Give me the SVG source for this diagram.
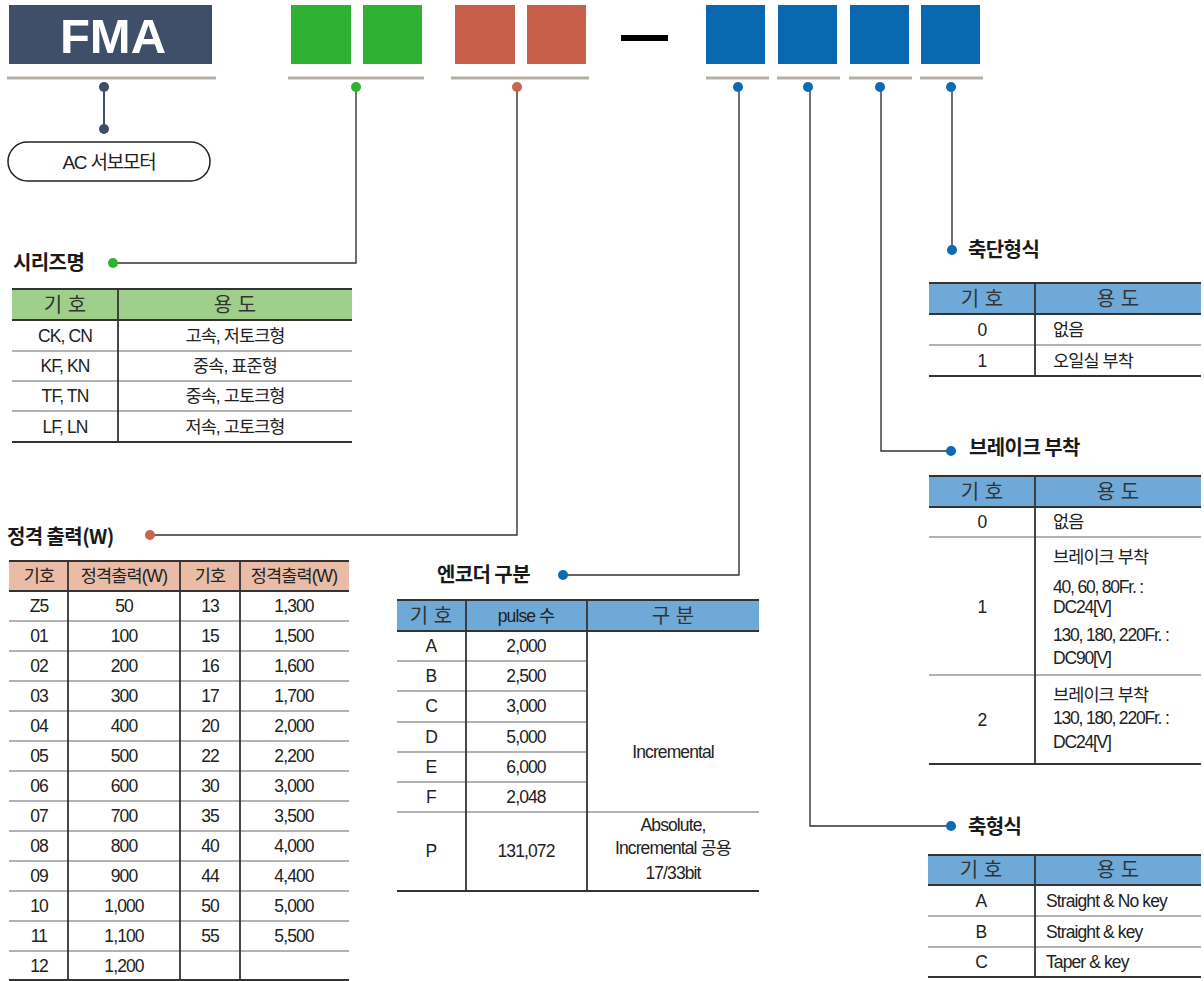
<svg xmlns="http://www.w3.org/2000/svg" width="1204" height="981" viewBox="0 0 1204 981">
<style>
text{font-family:"Liberation Sans","Noto Sans CJK KR",sans-serif;fill:#222;}
.t{font-size:17.5px;letter-spacing:-0.9px;}
.c{text-anchor:middle;}
.h{font-size:20px;fill:#333;text-anchor:middle;}
.ttl{font-family:"Noto Sans CJK KR","Liberation Sans",sans-serif;font-size:20px;font-weight:700;letter-spacing:-0.6px;fill:#1a1a1a;}
.dark{stroke:#333;stroke-width:1.8;fill:none;}
.row{stroke:#666;stroke-width:1.2;fill:none;}
.gl{stroke:#b7afa3;stroke-width:3;}
.conn{stroke:#333;stroke-width:1.4;fill:none;}
</style>
<g id="connectors">
<line x1="104" y1="87" x2="104" y2="134" stroke="#3f4f69" stroke-width="2"/>
<polyline class="conn" points="356,87 356,263 113,263"/>
<polyline class="conn" points="517,87 517,535 150,535"/>
<polyline class="conn" points="739,87 739,575 563,575"/>
<polyline class="conn" points="810,87 810,826 951,826"/>
<polyline class="conn" points="881,87 881,451 951,451"/>
<polyline class="conn" points="952,87 952,250"/>
</g>
<g id="code-fma">
<rect x="9" y="5" width="203" height="59" fill="#3f4f69"/>
<text x="113" y="53" font-size="49" font-weight="700" fill="#fff" text-anchor="middle" style="fill:#fff;font-family:'Liberation Sans',sans-serif">FMA</text>
<line class="gl" x1="7" y1="78" x2="216" y2="78"/>
<circle cx="104" cy="87" r="5" fill="#3f4f69"/>
<circle cx="104" cy="129" r="5" fill="#3f4f69"/>
</g>
<g id="code-series">
<rect x="291" y="5" width="60" height="59" fill="#2db233"/>
<rect x="363" y="5" width="59" height="59" fill="#2db233"/>
<line class="gl" x1="288" y1="78" x2="424" y2="78"/>
<circle cx="356" cy="87" r="5" fill="#2db233"/>
</g>
<g id="code-output">
<rect x="455" y="5" width="60" height="59" fill="#c75f4b"/>
<rect x="527" y="5" width="59" height="59" fill="#c75f4b"/>
<line class="gl" x1="451" y1="78" x2="589" y2="78"/>
<circle cx="517" cy="87" r="5" fill="#c86550"/>
</g>
<g id="dash"><rect x="621" y="35" width="47" height="6" fill="#000"/></g>
<g id="code-options">
<rect x="706" y="5" width="59" height="59" fill="#0868b0"/>
<rect x="778" y="5" width="59" height="59" fill="#0868b0"/>
<rect x="850" y="5" width="59" height="59" fill="#0868b0"/>
<rect x="921" y="5" width="59" height="59" fill="#0868b0"/>
<line class="gl" x1="706" y1="78" x2="769" y2="78"/>
<line class="gl" x1="777" y1="78" x2="840" y2="78"/>
<line class="gl" x1="849" y1="78" x2="912" y2="78"/>
<line class="gl" x1="920" y1="78" x2="983" y2="78"/>
<circle cx="738" cy="87" r="5" fill="#0b6bb3"/>
<circle cx="808" cy="87" r="5" fill="#0b6bb3"/>
<circle cx="880" cy="87" r="5" fill="#0b6bb3"/>
<circle cx="951" cy="87" r="5" fill="#0b6bb3"/>
</g>
<g id="ac-servo">
<rect x="8" y="142" width="202" height="39" rx="19.5" fill="#fff" stroke="#222" stroke-width="1.5"/>
<text class="c" x="109" y="169" style="font-size:19px;letter-spacing:-1.2px">AC 서보모터</text>
</g>
<g id="series-table">
<circle cx="113" cy="263" r="5" fill="#2db233"/>
<text class="ttl" x="13" y="270">시리즈명</text>
<rect x="12" y="289" width="340" height="31" fill="#9ed08b"/>
<line class="dark" x1="12" y1="289" x2="352" y2="289"/>
<line class="dark" x1="12" y1="320" x2="352" y2="320"/>
<line class="row" x1="12" y1="351" x2="352" y2="351"/>
<line class="row" x1="12" y1="381" x2="352" y2="381"/>
<line class="row" x1="12" y1="411" x2="352" y2="411"/>
<line class="dark" x1="12" y1="442" x2="352" y2="442"/>
<line class="dark" x1="118" y1="289" x2="118" y2="442"/>
<text class="h" x="65" y="312">기 호</text>
<text class="h" x="235" y="312">용 도</text>
<text class="t c" x="65" y="342">CK, CN</text><text class="t c" x="235" y="342">고속, 저토크형</text>
<text class="t c" x="65" y="372">KF, KN</text><text class="t c" x="235" y="372">중속, 표준형</text>
<text class="t c" x="65" y="402">TF, TN</text><text class="t c" x="235" y="402">중속, 고토크형</text>
<text class="t c" x="65" y="433">LF, LN</text><text class="t c" x="235" y="433">저속, 고토크형</text>
</g>
<g id="output-table">
<circle cx="150" cy="535" r="5" fill="#c86550"/>
<text class="ttl" x="7" y="544">정격 출력(W)</text>
<rect x="9" y="561" width="340" height="30" fill="#e9bca7"/>
<line class="dark" x1="9" y1="561" x2="349" y2="561"/>
<line class="dark" x1="9" y1="591" x2="349" y2="591"/>
<g class="row">
<line x1="9" y1="621" x2="349" y2="621"/><line x1="9" y1="651" x2="349" y2="651"/><line x1="9" y1="681" x2="349" y2="681"/><line x1="9" y1="711" x2="349" y2="711"/><line x1="9" y1="741" x2="349" y2="741"/><line x1="9" y1="771" x2="349" y2="771"/><line x1="9" y1="801" x2="349" y2="801"/><line x1="9" y1="831" x2="349" y2="831"/><line x1="9" y1="861" x2="349" y2="861"/><line x1="9" y1="891" x2="349" y2="891"/><line x1="9" y1="921" x2="349" y2="921"/><line x1="9" y1="951" x2="349" y2="951"/>
</g>
<line class="dark" x1="9" y1="980" x2="349" y2="980"/>
<line class="dark" x1="68" y1="561" x2="68" y2="980"/>
<line class="dark" x1="180" y1="561" x2="180" y2="980"/>
<line class="dark" x1="240" y1="561" x2="240" y2="980"/>
<text class="t c" x="39" y="582">기호</text><text class="t c" x="124" y="582">정격출력(W)</text><text class="t c" x="210" y="582">기호</text><text class="t c" x="294" y="582">정격출력(W)</text>
<g class="t c">
<text x="39" y="612">Z5</text><text x="124" y="612">50</text><text x="210" y="612">13</text><text x="294" y="612">1,300</text>
<text x="39" y="642">01</text><text x="124" y="642">100</text><text x="210" y="642">15</text><text x="294" y="642">1,500</text>
<text x="39" y="672">02</text><text x="124" y="672">200</text><text x="210" y="672">16</text><text x="294" y="672">1,600</text>
<text x="39" y="702">03</text><text x="124" y="702">300</text><text x="210" y="702">17</text><text x="294" y="702">1,700</text>
<text x="39" y="732">04</text><text x="124" y="732">400</text><text x="210" y="732">20</text><text x="294" y="732">2,000</text>
<text x="39" y="762">05</text><text x="124" y="762">500</text><text x="210" y="762">22</text><text x="294" y="762">2,200</text>
<text x="39" y="792">06</text><text x="124" y="792">600</text><text x="210" y="792">30</text><text x="294" y="792">3,000</text>
<text x="39" y="822">07</text><text x="124" y="822">700</text><text x="210" y="822">35</text><text x="294" y="822">3,500</text>
<text x="39" y="852">08</text><text x="124" y="852">800</text><text x="210" y="852">40</text><text x="294" y="852">4,000</text>
<text x="39" y="882">09</text><text x="124" y="882">900</text><text x="210" y="882">44</text><text x="294" y="882">4,400</text>
<text x="39" y="912">10</text><text x="124" y="912">1,000</text><text x="210" y="912">50</text><text x="294" y="912">5,000</text>
<text x="39" y="942">11</text><text x="124" y="942">1,100</text><text x="210" y="942">55</text><text x="294" y="942">5,500</text>
<text x="39" y="972">12</text><text x="124" y="972">1,200</text>
</g>
</g>
<g id="encoder-table">
<circle cx="563" cy="575" r="5" fill="#0b6bb3"/>
<text class="ttl" x="437" y="582">엔코더 구분</text>
<rect x="397" y="600" width="362" height="31" fill="#6fa9d8"/>
<line class="dark" x1="397" y1="600" x2="759" y2="600"/>
<line class="dark" x1="397" y1="631" x2="759" y2="631"/>
<g class="row">
<line x1="397" y1="661" x2="587" y2="661"/><line x1="397" y1="691" x2="587" y2="691"/><line x1="397" y1="722" x2="587" y2="722"/><line x1="397" y1="752" x2="587" y2="752"/><line x1="397" y1="782" x2="587" y2="782"/><line x1="397" y1="812" x2="759" y2="812"/>
</g>
<line class="dark" x1="397" y1="891" x2="759" y2="891"/>
<line class="dark" x1="466" y1="600" x2="466" y2="891"/>
<line class="dark" x1="587" y1="600" x2="587" y2="891"/>
<text class="h" x="431" y="623">기 호</text>
<text class="t c" x="526" y="622">pulse 수</text>
<text class="h" x="673" y="623">구 분</text>
<g class="t c">
<text x="431" y="652">A</text><text x="526" y="652">2,000</text>
<text x="431" y="682">B</text><text x="526" y="682">2,500</text>
<text x="431" y="712">C</text><text x="526" y="712">3,000</text>
<text x="431" y="743">D</text><text x="526" y="743">5,000</text>
<text x="431" y="773">E</text><text x="526" y="773">6,000</text>
<text x="431" y="803">F</text><text x="526" y="803">2,048</text>
<text x="673" y="758">Incremental</text>
<text x="431" y="857">P</text><text x="526" y="857">131,072</text>
<text x="673" y="831">Absolute,</text>
<text x="673" y="854">Incremental 공용</text>
<text x="673" y="879">17/33bit</text>
</g>
</g>
<g id="shaft-end-table">
<circle cx="952" cy="250" r="5" fill="#0b6bb3"/>
<text class="ttl" x="968" y="257">축단형식</text>
<rect x="929" y="283" width="272" height="31" fill="#6fa9d8"/>
<line class="dark" x1="929" y1="283" x2="1201" y2="283"/>
<line class="dark" x1="929" y1="314" x2="1201" y2="314"/>
<line class="row" x1="929" y1="345" x2="1201" y2="345"/>
<line class="dark" x1="929" y1="376" x2="1201" y2="376"/>
<line class="dark" x1="1035" y1="283" x2="1035" y2="376"/>
<text class="h" x="982" y="306">기 호</text>
<text class="h" x="1118" y="306">용 도</text>
<text class="t c" x="982" y="336">0</text><text class="t" x="1053" y="336">없음</text>
<text class="t c" x="982" y="367">1</text><text class="t" x="1053" y="367">오일실 부착</text>
</g>
<g id="brake-table">
<circle cx="951" cy="451" r="5" fill="#0b6bb3"/>
<text class="ttl" x="969" y="455">브레이크 부착</text>
<rect x="929" y="476" width="272" height="31" fill="#6fa9d8"/>
<line class="dark" x1="929" y1="476" x2="1201" y2="476"/>
<line class="dark" x1="929" y1="507" x2="1201" y2="507"/>
<line class="row" x1="929" y1="537" x2="1201" y2="537"/>
<line class="row" x1="929" y1="675" x2="1201" y2="675"/>
<line class="dark" x1="929" y1="764" x2="1201" y2="764"/>
<line class="dark" x1="1035" y1="476" x2="1035" y2="764"/>
<text class="h" x="982" y="499">기 호</text>
<text class="h" x="1118" y="499">용 도</text>
<text class="t c" x="982" y="528">0</text><text class="t" x="1053" y="528">없음</text>
<text class="t c" x="982" y="613">1</text>
<text class="t" x="1053" y="563">브레이크 부착</text>
<text class="t" x="1053" y="593" style="letter-spacing:-1.2px">40, 60, 80Fr. :</text>
<text class="t" x="1053" y="613" style="letter-spacing:-1.2px">DC24[V]</text>
<text class="t" x="1053" y="641" style="letter-spacing:-1.2px">130, 180, 220Fr. :</text>
<text class="t" x="1053" y="664" style="letter-spacing:-1.2px">DC90[V]</text>
<text class="t c" x="982" y="726">2</text>
<text class="t" x="1053" y="701">브레이크 부착</text>
<text class="t" x="1053" y="724" style="letter-spacing:-1.2px">130, 180, 220Fr. :</text>
<text class="t" x="1053" y="748" style="letter-spacing:-1.2px">DC24[V]</text>
</g>
<g id="shaft-table">
<circle cx="951" cy="826" r="5" fill="#0b6bb3"/>
<text class="ttl" x="968" y="834">축형식</text>
<rect x="928" y="855" width="273" height="30" fill="#6fa9d8"/>
<line class="dark" x1="928" y1="855" x2="1201" y2="855"/>
<line class="dark" x1="928" y1="885" x2="1201" y2="885"/>
<line class="row" x1="928" y1="916" x2="1201" y2="916"/>
<line class="row" x1="928" y1="947" x2="1201" y2="947"/>
<line class="dark" x1="928" y1="977" x2="1201" y2="977"/>
<line class="dark" x1="1035" y1="855" x2="1035" y2="977"/>
<text class="h" x="981" y="877">기 호</text>
<text class="h" x="1118" y="877">용 도</text>
<text class="t c" x="981" y="907">A</text><text class="t" x="1046" y="907">Straight &amp; No key</text>
<text class="t c" x="981" y="938">B</text><text class="t" x="1046" y="938">Straight &amp; key</text>
<text class="t c" x="981" y="968">C</text><text class="t" x="1046" y="968">Taper &amp; key</text>
</g>
</svg>
